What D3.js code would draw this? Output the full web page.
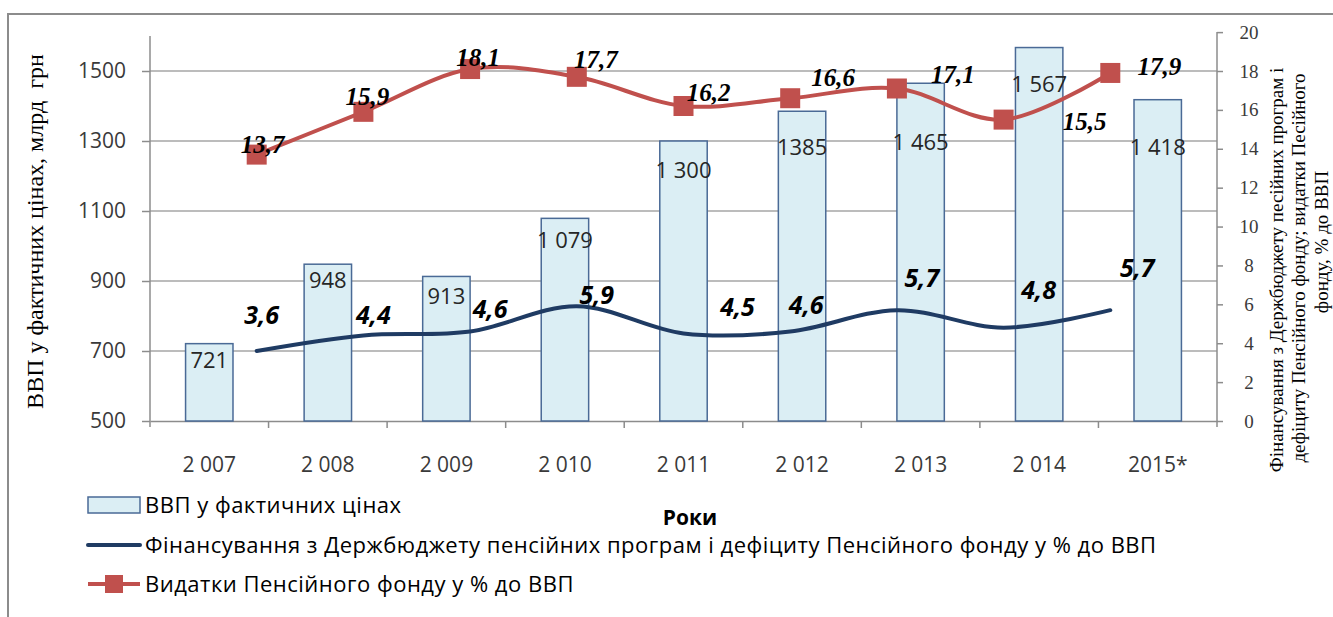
<!DOCTYPE html>
<html>
<head>
<meta charset="utf-8">
<script src="https://cdn.jsdelivr.net/npm/d3@7"></script>
<style>
  body { margin: 0; background: #fff; }
  svg { display: block; }
  .sans { font-family: "Open Sans", "Liberation Sans", sans-serif; }
  .serif { font-family: "Liberation Serif", "DejaVu Serif", serif; }
</style>
</head>
<body>
<svg id="chart"></svg>
<script>
// data
let years = ['2007', '2008', '2009', '2010', '2011', '2012', '2013', '2014', '2015']
let yearLabels = ['2 007', '2 008', '2 009', '2 010', '2 011', '2 012', '2 013', '2 014', '2015*']
let gdp = [721, 948, 913, 1079, 1300, 1385, 1465, 1567, 1418]
let gdpLabels = ['721', '948', '913', '1 079', '1 300', '1385', '1 465', '1 567', '1 418']
let budgetShare = [3.6, 4.4, 4.6, 5.9, 4.5, 4.6, 5.7, 4.8, 5.7]
let fundShare = [13.7, 15.9, 18.1, 17.7, 16.2, 16.6, 17.1, 15.5, 17.9]
let leftTicks = [500, 700, 900, 1100, 1300, 1500]
let rightTicks = [0, 2, 4, 6, 8, 10, 12, 14, 16, 18, 20]

let legendNames = [
    'ВВП у фактичних цінах',
    'Фінансування з Держбюджету пенсійних програм і дефіциту Пенсійного фонду у % до ВВП',
    'Видатки Пенсійного фонду у % до ВВП'
]
let leftTitle = 'ВВП у фактичних цінах, млрд  грн'
let rightTitle = [
    'Фінансування з Держбюджету песійних програм і',
    'дефіциту Пенсійного фонду; видатки Песійного',
    'фонду, % до ВВП'
]

// hand-placed label nudges (pixels), as in the original
let gdpLabelDy = [16, 16, 20, 22, 29, 36, 59, 37, 47]
let fundLabelDx = [6, 4, 8, 19, 25, 43, 56, 81, 49]
let fundLabelDy = [-10, -15, -12, -17, -14, -21, -14, 2, -6]
let budgetLabelDx = [5, 10, 20, 20, 54, 16, 25, 35, 27]
let budgetLabelDy = [-36, -20, -23, -11, -27, -27, -32, -38, -42]

let width = 1333,
    height = 617,
    plotLeft = 150,
    plotRight = 1217,
    plotTop = 36,
    plotBottom = 421

let barFill = '#dbeef4',
    barStroke = '#4a6a96',
    navy = '#1f3b63',
    red = '#c0504d',
    gridColor = '#a6a6a6',
    axisText = '#3a3a3a'

let fmt = v => d3.format('.1f')(v).replace('.', ',')

let svg = d3.select('#chart')
    .attr('width', width)
    .attr('height', height)

svg.append('rect').attr('width', width).attr('height', height).attr('fill', '#fff')

// outer frame
svg.append('path')
    .attr('d', `M8,${height} V14 H${width}`)
    .attr('fill', 'none')
    .attr('stroke', '#8c8c8c')
    .attr('stroke-width', 2)

let x = d3.scaleBand().domain(years).range([plotLeft, plotRight])
let xLine = d3.scaleLinear().domain([-1, years.length]).range([plotLeft, plotRight])
let yL = d3.scaleLinear().domain([500, 1600]).range([plotBottom, plotTop])
// secondary axis: 18 lines up with 1500
let yR = d3.scaleLinear().domain([0, 18]).range([plotBottom, yL(1500)])

// gridlines
svg.append('g')
    .selectAll('line')
    .data(leftTicks.slice(1))
    .join('line')
    .attr('x1', plotLeft).attr('x2', plotRight)
    .attr('y1', d => yL(d)).attr('y2', d => yL(d))
    .attr('stroke', gridColor)
    .attr('stroke-width', 1.5)

// left axis
let gLeft = svg.append('g')
    .attr('transform', `translate(${plotLeft},0)`)
    .call(d3.axisLeft(yL).tickValues(leftTicks).tickSize(8).tickPadding(16).tickFormat(d3.format('d')))
gLeft.select('.domain').attr('stroke', '#8c8c8c').attr('stroke-width', 1.5).attr('d', `M0,${plotTop}V${plotBottom + 6}`)
gLeft.selectAll('.tick line').attr('stroke', '#8c8c8c').attr('stroke-width', 1.5)
gLeft.selectAll('.tick text')
    .attr('class', 'sans')
    .attr('font-size', 21)
    .attr('fill', axisText)

// right axis
let gRight = svg.append('g')
    .attr('transform', `translate(${plotRight},0)`)
    .call(d3.axisRight(yR).tickValues(rightTicks).tickSize(6).tickPadding(0).tickFormat(d3.format('d')))
gRight.select('.domain').attr('stroke', '#8c8c8c').attr('stroke-width', 1.5).attr('d', `M0,${yR(20)}V${plotBottom + 6}`)
gRight.selectAll('.tick line').attr('stroke', '#8c8c8c').attr('stroke-width', 1.5)
gRight.selectAll('.tick text')
    .attr('class', 'serif')
    .attr('x', 32)
    .attr('text-anchor', 'middle')
    .attr('font-size', 19)
    .attr('fill', axisText)

// x axis
let gX = svg.append('g')
    .attr('transform', `translate(0,${plotBottom})`)
    .call(d3.axisBottom(x).tickSize(0).tickPadding(36).tickFormat((d, i) => yearLabels[i]))
gX.select('.domain').attr('stroke', '#8c8c8c').attr('stroke-width', 1.5)
gX.selectAll('.tick text')
    .attr('class', 'sans')
    .attr('font-size', 21)
    .attr('fill', axisText)
gX.selectAll('line.sep')
    .data(years.slice(1))
    .join('line')
    .attr('class', 'sep')
    .attr('x1', d => x(d)).attr('x2', d => x(d))
    .attr('y1', 0).attr('y2', 7)
    .attr('stroke', '#8c8c8c')
    .attr('stroke-width', 1.5)

// bars
let barW = x.bandwidth() * 0.4
svg.append('g')
    .selectAll('rect')
    .data(gdp)
    .join('rect')
    .attr('x', (d, i) => x(years[i]) + (x.bandwidth() - barW) / 2)
    .attr('y', d => yL(d))
    .attr('width', barW)
    .attr('height', d => plotBottom - yL(d))
    .attr('fill', barFill)
    .attr('stroke', barStroke)
    .attr('stroke-width', 1.5)

svg.append('g')
    .selectAll('text')
    .data(gdp)
    .join('text')
    .attr('class', 'sans')
    .attr('x', (d, i) => x(years[i]) + x.bandwidth() / 2)
    .attr('y', (d, i) => yL(d) + gdpLabelDy[i])
    .attr('dy', '0.36em')
    .attr('text-anchor', 'middle')
    .attr('font-size', 22)
    .attr('fill', '#262626')
    .text((d, i) => gdpLabels[i])

// lines (smoothed, like Excel)
let line = (scale) => d3.line()
    .x((d, i) => xLine(i))
    .y(d => scale(d))
    .curve(d3.curveCatmullRom.alpha(0))

svg.append('path')
    .attr('d', line(yR)(budgetShare))
    .attr('fill', 'none')
    .attr('stroke', navy)
    .attr('stroke-width', 4)
    .attr('stroke-linecap', 'round')

svg.append('path')
    .attr('d', line(yR)(fundShare))
    .attr('fill', 'none')
    .attr('stroke', red)
    .attr('stroke-width', 4)

let mk = 20
svg.append('g')
    .selectAll('rect')
    .data(fundShare)
    .join('rect')
    .attr('x', (d, i) => xLine(i) - mk / 2)
    .attr('y', d => yR(d) - mk / 2)
    .attr('width', mk)
    .attr('height', mk)
    .attr('fill', red)

svg.append('g')
    .selectAll('text')
    .data(fundShare)
    .join('text')
    .attr('class', 'serif')
    .attr('x', (d, i) => xLine(i) + fundLabelDx[i])
    .attr('y', (d, i) => yR(d) + fundLabelDy[i])
    .attr('dy', '0.34em')
    .attr('text-anchor', 'middle')
    .attr('font-size', 25)
    .attr('font-weight', 'bold')
    .attr('font-style', 'italic')
    .attr('fill', '#000')
    .text(d => fmt(d))

svg.append('g')
    .selectAll('text')
    .data(budgetShare)
    .join('text')
    .attr('class', 'sans')
    .attr('x', (d, i) => xLine(i) + budgetLabelDx[i])
    .attr('y', (d, i) => yR(d) + budgetLabelDy[i])
    .attr('dy', '0.36em')
    .attr('text-anchor', 'middle')
    .attr('font-size', 25)
    .attr('font-weight', 'bold')
    .attr('font-style', 'italic')
    .attr('fill', '#000')
    .text(d => fmt(d))

// axis titles
svg.append('text')
    .attr('class', 'serif')
    .attr('transform', `translate(35,${(plotTop + plotBottom) / 2 + 3}) rotate(-90)`)
    .attr('text-anchor', 'middle')
    .attr('dominant-baseline', 'central')
    .style('white-space', 'pre')
    .attr('font-size', 24)
    .attr('fill', '#000')
    .text(leftTitle)

let rightTitleX = [1276, 1298, 1321],
    rightTitleY = [270, 268, 242]
svg.append('g')
    .selectAll('text')
    .data(rightTitle)
    .join('text')
    .attr('class', 'serif')
    .attr('transform', (d, i) => `translate(${rightTitleX[i]},${rightTitleY[i]}) rotate(-90)`)
    .attr('text-anchor', 'middle')
    .attr('dominant-baseline', 'central')
    .attr('font-size', 19)
    .attr('fill', '#000')
    .text(d => d)

svg.append('text')
    .attr('class', 'sans')
    .attr('x', 690)
    .attr('y', 517)
    .attr('dy', '0.36em')
    .attr('text-anchor', 'middle')
    .attr('font-size', 21)
    .attr('font-weight', 'bold')
    .attr('fill', '#000')
    .text('Роки')

// legend
let legendY = [505, 545, 584]
let lg = svg.append('g')
lg.append('rect')
    .attr('x', 88).attr('y', legendY[0] - 8)
    .attr('width', 52).attr('height', 16)
    .attr('fill', barFill).attr('stroke', barStroke).attr('stroke-width', 1.5)
lg.append('line')
    .attr('x1', 88).attr('x2', 140)
    .attr('y1', legendY[1]).attr('y2', legendY[1])
    .attr('stroke', navy).attr('stroke-width', 4).attr('stroke-linecap', 'round')
lg.append('line')
    .attr('x1', 88).attr('x2', 140)
    .attr('y1', legendY[2]).attr('y2', legendY[2])
    .attr('stroke', red).attr('stroke-width', 4)
lg.append('rect')
    .attr('x', 114 - 9).attr('y', legendY[2] - 9)
    .attr('width', 18).attr('height', 18)
    .attr('fill', red)
lg.selectAll('text')
    .data(legendNames)
    .join('text')
    .attr('class', 'sans')
    .attr('x', 145)
    .attr('y', (d, i) => legendY[i])
    .attr('dy', '0.36em')
    .attr('font-size', 22)
    .attr('letter-spacing', 0.5)
    .attr('fill', '#000')
    .text(d => d)
</script>
</body>
</html>
